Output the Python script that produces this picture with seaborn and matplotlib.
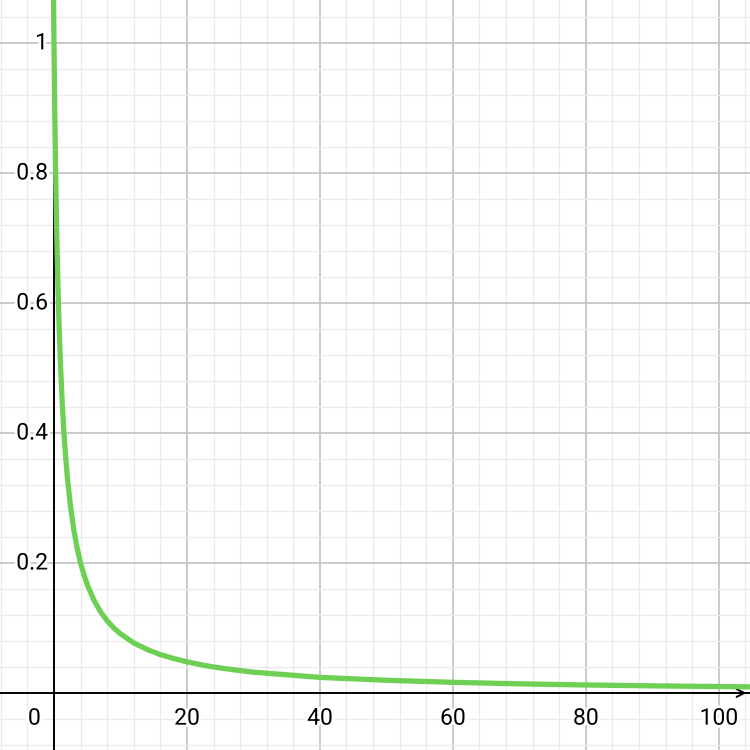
#!/usr/bin/env python3
"""Recreate a Desmos-style graph of a decaying curve with seaborn."""

import matplotlib

matplotlib.use("Agg")
import matplotlib.pyplot as plt
import matplotlib.patheffects as pe
import numpy as np
import seaborn as sns

# Points (x, y)
curve_x = [-0.06, -0.03, 0.0, 0.05, 0.1, 0.15, 0.2, 0.25, 0.3, 0.4, 0.5, 0.6, 0.7,
           0.8, 1.0, 1.25, 1.5, 1.75, 2.0, 2.5, 3.0, 3.5, 4.0, 4.5, 5.0, 6.0,
           7.0, 8.0, 9.0, 10.0, 12.0, 14.0, 16.0, 18.0, 20.0, 22.5, 25.0, 27.5,
           30.0, 35.0, 40.0, 50.0, 60.0, 70.0, 80.0, 90.0, 100.0, 105.0]
curve_y = [1.064, 1.031, 1.0, 0.952, 0.909, 0.870, 0.833, 0.800, 0.769, 0.714,
           0.667, 0.625, 0.588, 0.556, 0.500, 0.444, 0.400, 0.364, 0.333,
           0.286, 0.250, 0.222, 0.200, 0.182, 0.167, 0.143, 0.125, 0.111,
           0.100, 0.091, 0.077, 0.067, 0.059, 0.053, 0.048, 0.0426, 0.0385,
           0.0351, 0.032, 0.028, 0.024, 0.0196, 0.0164, 0.0141, 0.0123, 0.0110,
           0.0099, 0.0094]

x_ticks = [20, 40, 60, 80, 100]
x_tick_labels = ["20", "40", "60", "80", "100"]
y_ticks = [0.2, 0.4, 0.6, 0.8, 1.0]
y_tick_labels = ["0.2", "0.4", "0.6", "0.8", "1"]

X_MIN, X_MAX = -8.12, 104.7
Y_MIN, Y_MAX = -0.0877, 1.066


def main():
    sns.set_theme(style="white")
    plt.rcParams["font.family"] = ["Roboto", "DejaVu Sans"]

    fig = plt.figure(figsize=(7.5, 7.5), dpi=100)
    ax = fig.add_axes([0, 0, 1, 1])
    ax.set_xlim(X_MIN, X_MAX)
    ax.set_ylim(Y_MIN, Y_MAX)
    ax.axis("off")

    # grid: minor every 4 / 0.04, major every 20 / 0.2
    for gx in np.arange(-8, 105, 4):
        major = abs(gx % 20) < 1e-9
        ax.axvline(gx, color="#c6c6c6" if major else "#ebebeb",
                   lw=1.3 if major else 1.0, zorder=1)
    for gy in np.arange(-0.08, 1.07, 0.04):
        major = abs(round(gy / 0.04)) % 5 == 0
        ax.axhline(gy, color="#c6c6c6" if major else "#ebebeb",
                   lw=1.3 if major else 1.0, zorder=1)

    # axes
    ax.axhline(0, color="black", lw=1.4, zorder=2)
    ax.axvline(0, color="black", lw=1.4, zorder=2)
    ax.annotate("", xy=(X_MAX - 0.1, 0), xytext=(X_MAX - 4, 0),
                arrowprops=dict(arrowstyle="->", lw=1.4, color="black",
                                mutation_scale=14), zorder=2)

    halo = [pe.withStroke(linewidth=4, foreground="white")]
    fs = 16.5
    for val, lab in zip(x_ticks, x_tick_labels):
        ax.text(val, -0.021, lab, ha="center", va="top", fontsize=fs,
                color="black", path_effects=halo, zorder=3)
    for val, lab in zip(y_ticks, y_tick_labels):
        ax.text(-0.9, val, lab, ha="right", va="center", fontsize=fs,
                color="black", path_effects=halo, zorder=3)
    ax.text(-2.0, -0.021, "0", ha="right", va="top", fontsize=fs,
            color="black", path_effects=halo, zorder=3)

    sns.lineplot(x=curve_x, y=curve_y, ax=ax, color="#6dd055", lw=3.8,
                 sort=False, zorder=4)
    ax.set_xlim(X_MIN, X_MAX)
    ax.set_ylim(Y_MIN, Y_MAX)

    fig.savefig("out.png", dpi=100)
    plt.close(fig)


if __name__ == "__main__":
    main()
